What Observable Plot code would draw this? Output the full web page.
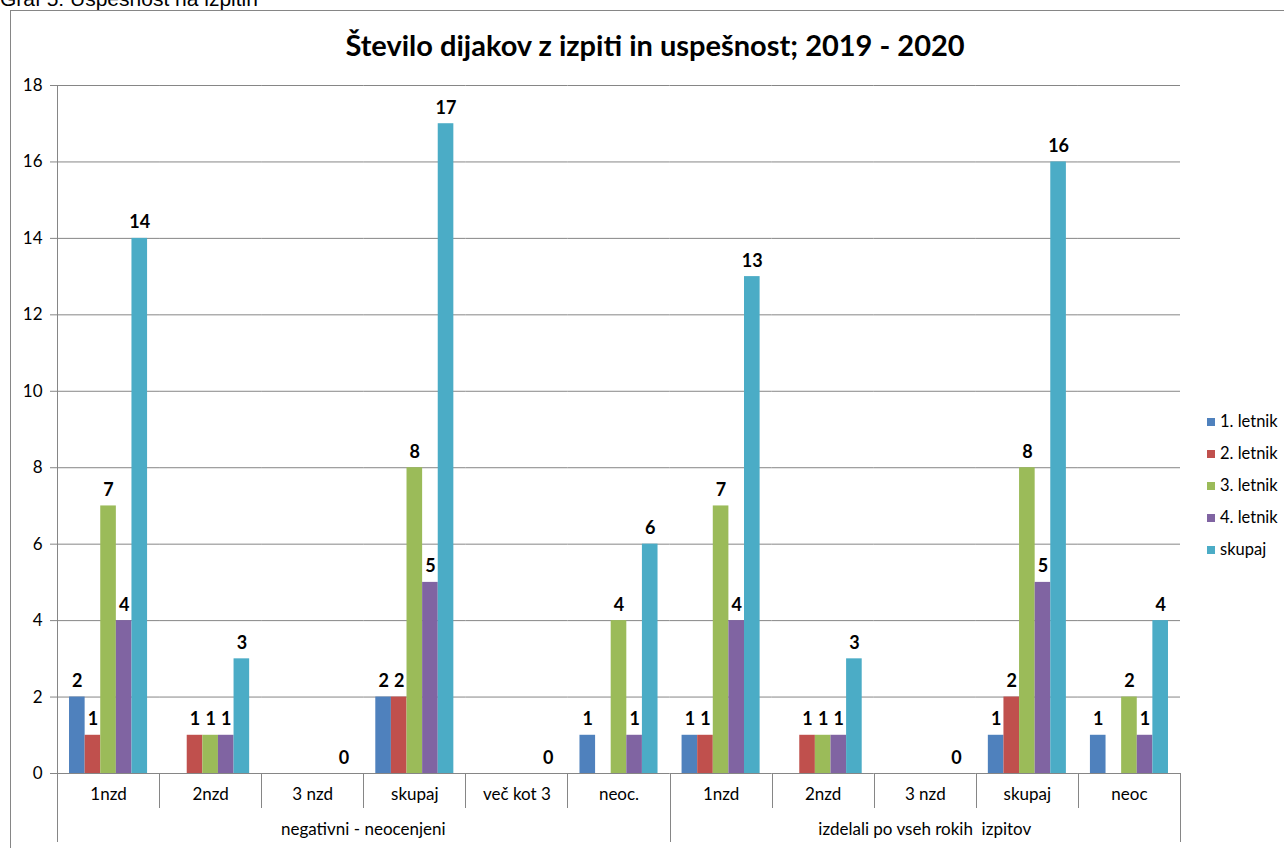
<!DOCTYPE html>
<html><head><meta charset="utf-8">
<script src="https://cdn.jsdelivr.net/npm/d3@7"></script>
<script src="https://cdn.jsdelivr.net/npm/@observablehq/plot@0.6"></script>
<style>
body{margin:0;background:#fff;overflow:hidden;}
#wrap{position:relative;width:1284px;height:848px;overflow:hidden;font-family:Lato,sans-serif;}
#cap{position:absolute;left:0;top:-12px;font:21px/21px "Liberation Sans",Arial,sans-serif;color:#000;white-space:nowrap;}
#border{position:absolute;left:10px;top:10px;width:1400px;height:1000px;border:1px solid #868686;}
#title{position:absolute;left:0;width:1310px;top:27px;line-height:36px;text-align:center;font-family:Lato,sans-serif;font-weight:bold;font-size:29px;color:#000;}
#chart{position:absolute;left:0;top:0;}
#legend{position:absolute;left:1207px;top:411px;font:16.5px Lato,sans-serif;color:#000;}
#legend div{height:32px;line-height:20px;white-space:nowrap;}
#legend span.sw{display:inline-block;width:8px;height:8px;margin-right:5px;vertical-align:1px;}
</style></head>
<body>
<div id="wrap">
  <div id="cap">Graf 5: Uspešnost na izpitih</div>
  <div id="border"></div>
  <div id="chart"></div>
  <div id="title">Število dijakov z izpiti in uspešnost; 2019 - 2020</div>
  <div id="legend"></div>
</div>
<script>
// ---- data ----
const groups = ["negativni - neocenjeni", "izdelali po vseh rokih  izpitov"];
const categoriesA = ["1nzd", "2nzd", "3 nzd", "skupaj", "več kot 3", "neoc."];
const categoriesB = ["1nzd", "2nzd", "3 nzd", "skupaj", "neoc"];
const series = ["1. letnik", "2. letnik", "3. letnik", "4. letnik", "skupaj"];
const letnik1 = [2, null, null, 2, null, 1,   1, null, null, 1, 1];
const letnik2 = [1, 1, null, 2, null, null,   1, 1, null, 2, null];
const letnik3 = [7, 1, null, 8, null, 4,      7, 1, null, 8, 2];
const letnik4 = [4, 1, null, 5, null, 1,      4, 1, null, 5, 1];
const skupaj  = [14, 3, 0, 17, 0, 6,          13, 3, 0, 16, 4];
const yTicks = [0, 2, 4, 6, 8, 10, 12, 14, 16, 18];
const colors = ["#4F81BD", "#C0504D", "#9BBB59", "#8064A2", "#4BACC6"];

// ---- build table ----
const cats = [
  ...categoriesA.map(c => ({group: groups[0], label: c})),
  ...categoriesB.map(c => ({group: groups[1], label: c}))
];
cats.forEach((c, i) => c.key = i + "|" + c.label);
const keys = cats.map(c => c.key);
const seriesValues = [letnik1, letnik2, letnik3, letnik4, skupaj];
const rows = [];
cats.forEach((c, i) => {
  series.forEach((s, j) => {
    const v = seriesValues[j][i];
    if (v != null) rows.push({key: c.key, series: s, value: v});
  });
});

const chart = Plot.plot({
  width: 1284, height: 848,
  marginLeft: 57, marginRight: 104, marginTop: 85, marginBottom: 75,
  style: {fontFamily: "Lato, sans-serif", fontSize: "17px", background: "transparent", color: "#000"},
  fx: {domain: keys, padding: 0, round: false, axis: null},
  x: {domain: series, paddingInner: 0, paddingOuter: 0.77, round: false, axis: null},
  y: {domain: [0, 18], axis: null},
  color: {domain: series, range: colors},
  marks: [
    Plot.gridY(yTicks, {stroke: "#868686", strokeOpacity: 1, strokeWidth: 1}),
    Plot.barY(rows, {fx: "key", x: "series", y: "value", fill: "series", inset: 0}),
    Plot.text(rows, {fx: "key", x: "series", y: "value", text: d => String(d.value),
      lineAnchor: "bottom", dy: -10, fontWeight: "bold", fontSize: 18, fill: "#000"}),
    Plot.axisY(yTicks, {tickSize: 7, tickPadding: 8, stroke: "#868686", fontSize: 17, fill: "#000", label: null}),
    Plot.text(cats, {fx: "key", text: "label", frameAnchor: "bottom", dy: 26, fontSize: 17, fill: "#000"})
  ]
});
document.getElementById("chart").appendChild(chart);

// ---- hierarchical axis lines & outer labels from Plot scales ----
const fx = chart.scale("fx");
const y = chart.scale("y");
const y0 = y.apply(0), yTop = y.apply(18);
const bw = fx.bandwidth;
const svg = d3.select(chart);
const g = svg.append("g").attr("stroke", "#868686").attr("stroke-width", 1);
const xLeft = fx.apply(keys[0]);
const xRight = fx.apply(keys[keys.length - 1]) + bw;
// y axis line
g.append("line").attr("x1", xLeft + 0.5).attr("x2", xLeft + 0.5).attr("y1", yTop).attr("y2", y0);
// inner separators
keys.forEach((k, i) => {
  if (i === 0) return;
  const x = Math.round(fx.apply(k)) + 0.5;
  g.append("line").attr("x1", x).attr("x2", x).attr("y1", y0).attr("y2", y0 + 35);
});
// outer separators
const firstB = keys[categoriesA.length];
[xLeft, fx.apply(firstB), xRight].forEach(x => {
  x = Math.round(x) + 0.5;
  g.append("line").attr("x1", x).attr("x2", x).attr("y1", y0).attr("y2", y0 + 69);
});
// outer group labels
const spans = [[xLeft, fx.apply(firstB)], [fx.apply(firstB), xRight]];
groups.forEach((name, i) => {
  svg.append("text").attr("x", (spans[i][0] + spans[i][1]) / 2).attr("y", y0 + 57)
    .attr("text-anchor", "middle").attr("dy", "0.32em")
    .attr("font-family", "Lato, sans-serif").attr("font-size", 17).attr("fill", "#000")
    .style("white-space", "pre").text(name);
});

// ---- legend ----
const leg = document.getElementById("legend");
series.forEach((s, i) => {
  const d = document.createElement("div");
  d.innerHTML = `<span class="sw" style="background:${colors[i]}"></span>${s}`;
  leg.appendChild(d);
});
</script>
</body></html>
